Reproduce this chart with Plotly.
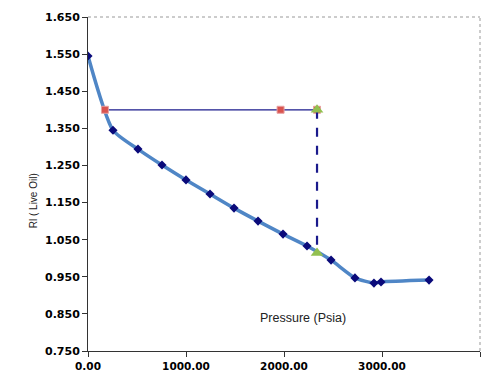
import plotly.graph_objects as go

pressure = [0, 255, 510, 755, 1000, 1245, 1490, 1735, 1990, 2235, 2480, 2724, 2918, 2990, 3480]
rl = [1.545, 1.345, 1.294, 1.251, 1.211, 1.173, 1.135, 1.100, 1.065, 1.033, 0.995, 0.947, 0.933, 0.936, 0.941]

h_x = [173, 1965, 2337]
h_y = [1.40, 1.40, 1.40]
v_x = [2337, 2337]
v_y = [1.40, 1.014]

xticks = [0, 1000, 2000, 3000, 4000]
yticks = [0.75, 0.85, 0.95, 1.05, 1.15, 1.25, 1.35, 1.45, 1.55, 1.65]

fig = go.Figure()
fig.add_trace(go.Scatter(x=pressure, y=rl, mode="lines", line=dict(color="#4F86C6", width=3.5, shape="spline", smoothing=0.6), showlegend=False))
fig.add_trace(go.Scatter(x=pressure, y=rl, mode="markers", marker=dict(symbol="diamond", color="#0A0A7A", size=7), showlegend=False))
fig.add_trace(go.Scatter(x=h_x, y=h_y, mode="lines+markers", line=dict(color="#1A1A8C", width=1.3),
                         marker=dict(symbol="square", color="#D9534F", size=7, line=dict(color="#E8A0A0", width=1)), showlegend=False))
fig.add_trace(go.Scatter(x=v_x, y=v_y, mode="lines+markers", line=dict(color="#1A1A8C", width=2.2, dash="dash"),
                         marker=dict(symbol="triangle-up", color="#92C050", size=11), showlegend=False))

fig.add_annotation(x=2194, y=0.839, text="Pressure (Psia)", showarrow=False, font=dict(family="Liberation Sans, Arial", size=12.5, color="#222"))
fig.add_annotation(xref="paper", yref="paper", x=-0.158, y=0.45, text="Rl ( Live Oil)", textangle=-90, showarrow=False,
                   font=dict(family="Liberation Sans, Arial", size=10, color="#222"))

fig.add_shape(type="line", xref="paper", yref="paper", x0=0, x1=1, y0=1, y1=1, line=dict(color="#999", width=1, dash="dot"))
fig.add_shape(type="line", xref="paper", yref="paper", x0=1, x1=1, y0=0, y1=1, line=dict(color="#999", width=1, dash="dot"))

xf = dict(family="DejaVu Sans", size=10.5, color="black", weight="bold")
yf = dict(family="DejaVu Sans", size=11, color="black", weight="bold")
fig.update_xaxes(range=[0, 4000], tickvals=xticks, ticktext=[f"{v:.2f}" for v in xticks], showgrid=False, zeroline=False,
                 showline=True, linecolor="#333", linewidth=1, ticks="outside", ticklen=5, tickcolor="#333",
                 tickfont=xf, automargin=False)
fig.update_yaxes(range=[0.75, 1.65], tickvals=yticks, ticktext=[f"{v:.3f}" for v in yticks], showgrid=False, zeroline=False,
                 showline=True, linecolor="#333", linewidth=1, ticks="outside", ticklen=5, tickcolor="#333",
                 tickfont=yf, automargin=False)

fig.update_layout(width=499, height=374, margin=dict(l=88, r=19, t=17, b=23), plot_bgcolor="white", paper_bgcolor="white")
fig.write_html("out.html")
